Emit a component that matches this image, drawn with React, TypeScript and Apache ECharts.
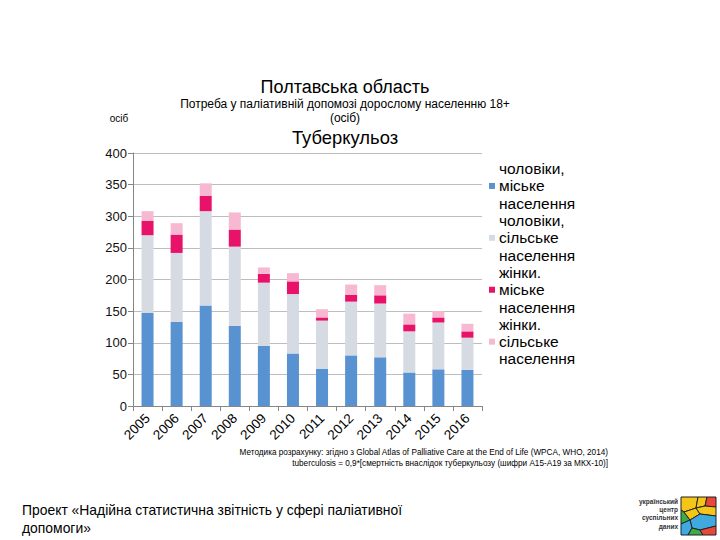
import React, { useEffect, useRef } from "react";
import * as echarts from "echarts";

const years = ["2005", "2006", "2007", "2008", "2009", "2010", "2011", "2012", "2013", "2014", "2015", "2016"];
const menUrban = [147, 133, 159, 127, 95, 83, 59, 80, 77, 53, 58, 57];
const menRural = [123, 109, 149, 125, 100, 94, 76, 85, 85, 65, 74, 51];
const womenUrban = [23, 29, 24, 27, 14, 20, 5, 11, 13, 11, 8, 10];
const womenRural = [15, 18, 20, 27, 10, 13, 13, 16, 16, 17, 10, 12];
const seriesNames = [
  "чоловіки,\nміське\nнаселення",
  "чоловіки,\nсільське\nнаселення",
  "жінки.\nміське\nнаселення",
  "жінки.\nсільське\nнаселення",
];
const seriesColors = ["#5892D0", "#D6DBE3", "#E8126A", "#F6B9D1"];
const yTicks = { min: 0, max: 400, interval: 50 };

const FONT = "Liberation Sans, Arial, sans-serif";

export default function App() {
  const ref = useRef<HTMLDivElement>(null);
  useEffect(() => {
    if (!ref.current) return;
    const chart = echarts.init(ref.current, null, { renderer: "svg" });
    const data = [menUrban, menRural, womenUrban, womenRural];
    const logoPolys: { pts: number[][]; color: string }[] = [
      { pts: [[681, 497], [698, 497], [696, 508], [684, 512], [681, 510]], color: "#F5C518" },
      { pts: [[698, 497], [707, 497], [705, 506], [696, 508]], color: "#F5C518" },
      { pts: [[707, 497], [716, 497], [716, 507], [705, 506]], color: "#E8473A" },
      { pts: [[681, 510], [684, 512], [690, 520], [681, 524]], color: "#3EAA48" },
      { pts: [[684, 512], [696, 508], [700, 514], [690, 520]], color: "#F5C518" },
      { pts: [[696, 508], [705, 506], [716, 507], [716, 516], [700, 514]], color: "#F5C518" },
      { pts: [[690, 520], [700, 514], [716, 516], [716, 526], [700, 530], [692, 528]], color: "#3FA9E0" },
      { pts: [[681, 524], [690, 520], [692, 528], [688, 535], [681, 535]], color: "#3FA9E0" },
      { pts: [[692, 528], [700, 530], [703, 535], [688, 535]], color: "#3EAA48" },
      { pts: [[700, 530], [716, 526], [716, 535], [703, 535]], color: "#E8473A" },
    ];
    chart.setOption({
      animation: false,
      textStyle: { fontFamily: FONT },
      grid: { left: 133, right: 238, top: 153, bottom: 134, containLabel: false },
      legend: {
        orient: "vertical",
        left: 484,
        top: 155,
        itemWidth: 6,
        itemHeight: 6,
        itemGap: 0,
        icon: "rect",
        textStyle: { fontSize: 15.5, lineHeight: 17.3, color: "#000", fontFamily: FONT, padding: [0, 0, 0, -1] },
        data: seriesNames,
      },
      xAxis: {
        type: "category",
        data: years,
        axisLine: { lineStyle: { color: "#868686" } },
        axisTick: { show: true, length: 5, lineStyle: { color: "#868686" } },
        axisLabel: { rotate: 45, fontSize: 13.5, color: "#000", margin: 10, interval: 0 },
      },
      yAxis: {
        type: "value",
        min: yTicks.min,
        max: yTicks.max,
        interval: yTicks.interval,
        axisLine: { show: true, lineStyle: { color: "#868686" } },
        axisTick: { show: true, length: 5, lineStyle: { color: "#868686" } },
        axisLabel: { fontSize: 13, color: "#111", margin: 6 },
        splitLine: { lineStyle: { color: "#BDBDBD", width: 1 } },
      },
      series: data.map((d, i) => ({
        name: seriesNames[i],
        type: "bar",
        stack: "total",
        data: d,
        barWidth: 12,
        itemStyle: { color: seriesColors[i] },
      })),
      graphic: [
        { type: "text", x: 345, y: 87, style: { text: "Полтавська область", fontSize: 18, fontFamily: FONT, fill: "#000", align: "center", verticalAlign: "middle" } },
        { type: "text", x: 345, y: 104, style: { text: "Потреба у паліативній допомозі дорослому населенню 18+", fontSize: 12, fontFamily: FONT, fill: "#000", align: "center", verticalAlign: "middle" } },
        { type: "text", x: 345, y: 118, style: { text: "(осіб)", fontSize: 12, fontFamily: FONT, fill: "#000", align: "center", verticalAlign: "middle" } },
        { type: "text", x: 345, y: 137, style: { text: "Туберкульоз", fontSize: 18.4, fontFamily: FONT, fill: "#000", align: "center", verticalAlign: "middle" } },
        { type: "text", x: 119, y: 118, style: { text: "осіб", fontSize: 10, fontFamily: FONT, fill: "#000", align: "center", verticalAlign: "middle" } },
        { type: "text", x: 608, y: 452, style: { text: "Методика розрахунку: згідно з Global Atlas of Palliative Care at the End of Life (WPCA, WHO, 2014)", fontSize: 8.2, fontFamily: FONT, fill: "#000", align: "right", verticalAlign: "middle" } },
        { type: "text", x: 608, y: 463, style: { text: "tuberculosis = 0,9*[смертність внаслідок туберкульозу (шифри A15-A19 за МКХ-10)]", fontSize: 8.2, fontFamily: FONT, fill: "#000", align: "right", verticalAlign: "middle" } },
        { type: "text", x: 22, y: 510, style: { text: "Проект «Надійна статистична звітність у сфері паліативної", fontSize: 13.9, fontFamily: FONT, fill: "#000", align: "left", verticalAlign: "middle" } },
        { type: "text", x: 22, y: 528, style: { text: "допомоги»", fontSize: 13.9, fontFamily: FONT, fill: "#000", align: "left", verticalAlign: "middle" } },
        { type: "text", x: 678, y: 501, style: { text: "український", fontSize: 6.5, fontWeight: "bold", fontFamily: FONT, fill: "#333", align: "right", verticalAlign: "middle" } },
        { type: "text", x: 678, y: 509, style: { text: "центр", fontSize: 6.5, fontWeight: "bold", fontFamily: FONT, fill: "#333", align: "right", verticalAlign: "middle" } },
        { type: "text", x: 678, y: 517, style: { text: "суспільних", fontSize: 6.5, fontWeight: "bold", fontFamily: FONT, fill: "#333", align: "right", verticalAlign: "middle" } },
        { type: "text", x: 678, y: 526, style: { text: "даних", fontSize: 6.5, fontWeight: "bold", fontFamily: FONT, fill: "#333", align: "right", verticalAlign: "middle" } },
        ...logoPolys.map((p) => ({
          type: "polygon",
          shape: { points: p.pts },
          style: { fill: p.color, stroke: "#222", lineWidth: 1 },
        })),
      ],
    });
    return () => chart.dispose();
  }, []);
  return <div ref={ref} style={{ position: "absolute", left: 0, top: 0, width: 720, height: 540, background: "#fff" }} />;
}
